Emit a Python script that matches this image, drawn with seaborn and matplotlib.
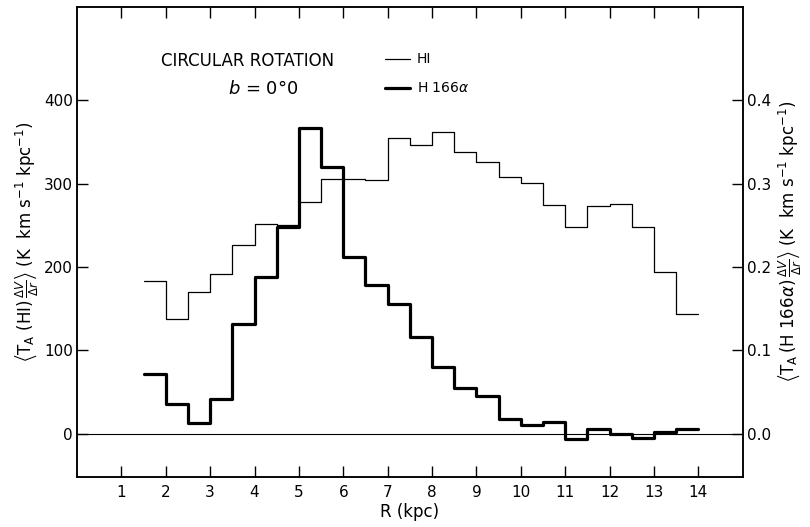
import numpy as np
import pandas as pd
from matplotlib import pyplot as plt
import seaborn as sns

# bin left edges (kpc), 0.5 kpc bins
r_left = [1.5, 2.0, 2.5, 3.0, 3.5, 4.0, 4.5, 5.0, 5.5, 6.0, 6.5, 7.0, 7.5,
          8.0, 8.5, 9.0, 9.5, 10.0, 10.5, 11.0, 11.5, 12.0, 12.5, 13.0, 13.5]
r_end = 14.0

# HI, K km s-1 kpc-1 (left axis)
hi_vals = [183, 138, 170, 192, 226, 251, 250, 278, 306, 306, 304, 355, 346,
           362, 338, 326, 308, 301, 274, 248, 273, 275, 248, 194, 143]

# H166alpha, K km s-1 kpc-1 (right axis)
h166_vals = [0.071, 0.036, 0.013, 0.041, 0.132, 0.188, 0.248, 0.367, 0.320,
             0.212, 0.178, 0.156, 0.116, 0.080, 0.055, 0.045, 0.018, 0.010,
             0.014, -0.006, 0.006, -0.001, -0.005, 0.002, 0.005]

x_ticks = list(range(1, 15))
left_ticks = [0, 100, 200, 300, 400]
right_ticks = [0.0, 0.1, 0.2, 0.3, 0.4]


def step_frame(vals):
    return pd.DataFrame({'r': r_left + [r_end], 'v': vals + [vals[-1]]})


sns.set_style('ticks')
plt.rcParams['font.family'] = ['DejaVu Sans']
plt.rcParams['mathtext.fontset'] = 'dejavusans'
plt.rcParams['text.color'] = 'black'
plt.rcParams['axes.labelcolor'] = 'black'
plt.rcParams['xtick.color'] = 'black'
plt.rcParams['ytick.color'] = 'black'

fig = plt.figure(figsize=(8.1, 5.27), dpi=100)
ax = fig.add_axes([0.095, 0.095, 0.822, 0.892])
ax2 = ax.twinx()

sns.lineplot(data=step_frame(hi_vals), x='r', y='v', ax=ax, color='black',
             lw=0.9, drawstyle='steps-post', estimator=None, sort=False)
sns.lineplot(data=step_frame(h166_vals), x='r', y='v', ax=ax2, color='black',
             lw=2.3, drawstyle='steps-post', estimator=None, sort=False)

ax.axhline(0, color='black', lw=0.8)

ax.set_xlim(0, 15)
ax.set_ylim(-52, 512)
ax2.set_ylim(-0.052, 0.512)

ax.set_xticks(x_ticks)
ax.set_yticks(left_ticks)
ax2.set_yticks(right_ticks)
ax2.set_yticklabels(['%.1f' % t for t in right_ticks])

ax.tick_params(axis='x', direction='in', length=8, width=1, top=True,
               labelsize=11, pad=6)
ax.tick_params(axis='y', direction='in', length=8, width=1, labelsize=11, pad=3)
ax2.tick_params(axis='y', direction='in', length=8, width=1, labelsize=11, pad=3)

for a in (ax, ax2):
    for s in a.spines.values():
        s.set_visible(True)
        s.set_color('black')
        s.set_linewidth(1.1)

ax.set_xlabel('R (kpc)', fontsize=12, labelpad=2)
ax.set_ylabel(r'$\left\langle \mathrm{T_A}\ (\mathrm{HI})\, \frac{\Delta V}{\Delta r} \right\rangle$'
              r' (K  km s$^{-1}$ kpc$^{-1}$)', fontsize=12, labelpad=2)
ax2.set_ylabel(r'$\left\langle \mathrm{T_A}\,(\mathrm{H\ 166}\alpha)\, \frac{\Delta V}{\Delta r} \right\rangle$'
               r' (K  km s$^{-1}$ kpc$^{-1}$)', fontsize=12, labelpad=4,
               rotation=90)

ax.text(1.9, 447, 'CIRCULAR ROTATION', fontsize=12, va='center', ha='left')
ax.text(3.4, 414, r'$b$ = 0°0', fontsize=13, va='center', ha='left')

# legend
ax.plot([6.95, 7.5], [449, 449], color='black', lw=0.9)
ax.plot([6.95, 7.5], [415, 415], color='black', lw=2.3)
ax.text(7.65, 449, 'HI', fontsize=10, va='center', ha='left')
ax.text(7.65, 415, r'H 166$\alpha$', fontsize=10, va='center', ha='left')

fig.savefig('out.png', dpi=100)
